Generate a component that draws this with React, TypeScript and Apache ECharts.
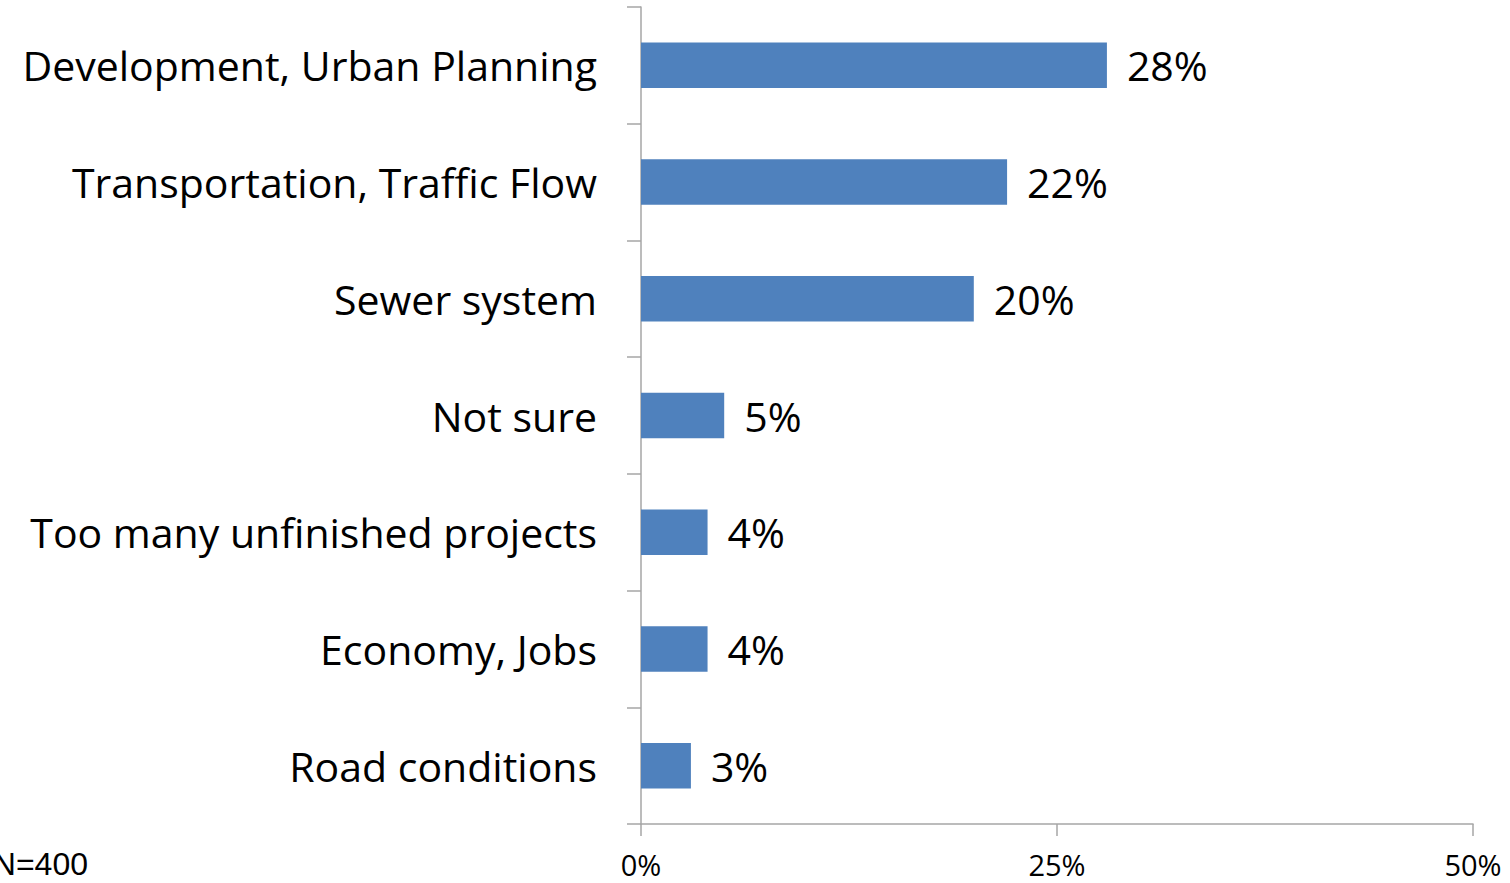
import React, { useEffect, useRef } from "react";
import * as echarts from "echarts";

const categories = [
  "Development, Urban Planning",
  "Transportation, Traffic Flow",
  "Sewer system",
  "Not sure",
  "Too many unfinished projects",
  "Economy, Jobs",
  "Road conditions",
];
const values = [28, 22, 20, 5, 4, 4, 3];
const xTicks = [0, 25, 50];
const note = "N=400";

export default function App() {
  const ref = useRef<HTMLDivElement>(null);
  useEffect(() => {
    if (!ref.current) return;
    const chart = echarts.init(ref.current, null, { renderer: "svg" });
    chart.setOption({
      animation: false,
      backgroundColor: "#ffffff",
      grid: { left: 641, right: 37, top: 7, bottom: 59, containLabel: false },
      xAxis: {
        type: "value",
        min: xTicks[0],
        max: xTicks[xTicks.length - 1],
        interval: xTicks[1] - xTicks[0],
        axisLine: { show: true, lineStyle: { color: "#a6a6a6", width: 1.5 } },
        axisTick: { show: true, length: 12, lineStyle: { color: "#a6a6a6", width: 1.5 } },
        splitLine: { show: false },
        axisLabel: {
          formatter: "{value}%",
          fontFamily: "Open Sans",
          fontSize: 29,
          lineHeight: 30,
          color: "#000",
          margin: 25,
        },
      },
      yAxis: {
        type: "category",
        data: categories,
        inverse: true,
        axisLine: { show: true, lineStyle: { color: "#a6a6a6", width: 1.5 } },
        axisTick: { show: true, length: 14, lineStyle: { color: "#a6a6a6", width: 1.5 } },
        axisLabel: {
          fontFamily: "Open Sans",
          fontSize: 41,
          color: "#000",
          margin: 44,
        },
      },
      series: [
        {
          type: "bar",
          data: values,
          barCategoryGap: "61%",
          itemStyle: { color: "#4f81bd" },
          label: {
            show: true,
            position: "right",
            distance: 20,
            formatter: "{c}%",
            fontFamily: "Open Sans",
            fontSize: 41,
            color: "#000",
          },
        },
      ],
      graphic: [
        {
          type: "text",
          right: 1510 - 88,
          top: 848,
          style: {
            text: note,
            fontFamily: "Liberation Sans",
            fontSize: 32,
            lineHeight: 32,
            fill: "#000",
          },
        },
      ],
    });
    return () => chart.dispose();
  }, []);
  return (
    <div
      ref={ref}
      style={{ position: "absolute", left: 0, top: 0, width: 1510, height: 883 }}
    />
  );
}
